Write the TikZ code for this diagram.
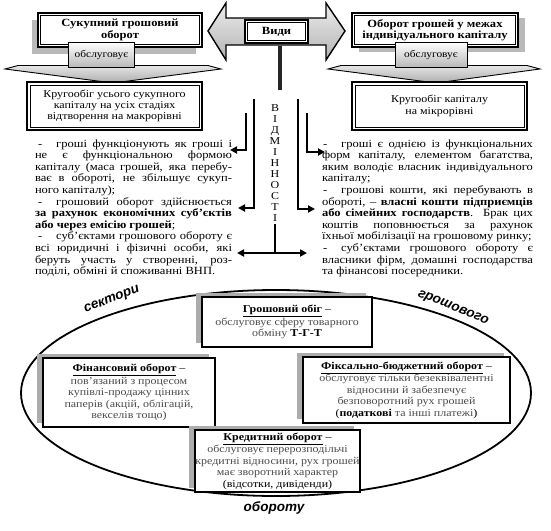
\documentclass[tikz,border=0pt]{standalone}
\usepackage{fontspec}
\setmainfont{Liberation Serif}[FakeStretch=1.14]
\newfontfamily\arialfont{Liberation Sans}
\usetikzlibrary{arrows.meta,shadows}
\begin{document}
\begin{tikzpicture}[x=1pt,y=-1pt,
  every node/.style={inner sep=0pt, outer sep=0pt},
  dblbox/.style={draw, line width=1.8pt, fill=white, align=center},
  servbox/.style={draw, line width=1pt, top color=white, bottom color=gray!55, align=center, font=\fontsize{10}{11}\selectfont},
  chev/.style={draw, line width=0.9pt, top color=gray!20, bottom color=gray!65},
  conn/.style={line width=2.4pt, -{Triangle[length=7pt,width=7pt]}},
  sector/.style={draw, line width=2pt, fill=white, align=center, font=\fontsize{10.5}{11.4}\selectfont,
     general shadow={fill=gray!65, shadow xshift=-6pt, shadow yshift=4pt}},
  body/.style={anchor=north west, align=justify, font=\fontsize{11}{11.6}\selectfont},
  ringlabel/.style={font=\arialfont\bfseries\itshape\fontsize{13.5}{14}\selectfont}
]
\useasboundingbox (0,0) rectangle (551,530);

% ---------- top double arrow with "Види"
\path[draw, line width=1.4pt, top color=gray!15, bottom color=gray!60]
  (208,31) -- (226,3) -- (226,18) -- (326,18) -- (326,3) -- (345,31)
  -- (326,60) -- (326,45) -- (226,45) -- (226,60) -- cycle;
\node[dblbox, minimum width=63pt, minimum height=23pt, font=\bfseries\fontsize{11}{12}\selectfont] (vidy) at (276.5,31.5) {Види};
\draw[line width=0.6pt] ([shift={(2.6pt,-2.6pt)}]vidy.north west) rectangle ([shift={(-2.6pt,2.6pt)}]vidy.south east);

% ---------- left column
\node[dblbox, minimum width=164pt, minimum height=34pt, font=\bfseries\fontsize{11}{11.5}\selectfont,
      general shadow={fill=gray!55, shadow xshift=-6pt, shadow yshift=-7pt}] (total) at (120,30)
      {Сукупний грошовий\\оборот};
\draw[line width=0.6pt] ([shift={(2.6pt,-2.6pt)}]total.north west) rectangle ([shift={(-2.6pt,2.6pt)}]total.south east);
\path[chev] (5,69) -- (18,65.5) -- (208,65.5) -- (221,69) -- (113,83) -- cycle;
\node[servbox, minimum width=66pt, minimum height=25pt] (servL) at (101.5,54.5) {обслуговує};
\node[dblbox, minimum width=175pt, minimum height=48pt, font=\fontsize{10.5}{10.8}\selectfont] (macro) at (114.5,106)
      {Кругообіг усього сукупного\\капіталу на усіх стадіях\\відтворення на макрорівні};
\draw[line width=0.6pt] ([shift={(3pt,-3pt)}]macro.north west) rectangle ([shift={(-3pt,3pt)}]macro.south east);

% ---------- right column
\node[dblbox, minimum width=166pt, minimum height=34pt, font=\bfseries\fontsize{11}{11.5}\selectfont,
      general shadow={fill=gray!55, shadow xshift=7pt, shadow yshift=-5pt}] (indiv) at (435,30)
      {Оборот грошей у межах\\індивідуального капіталу};
\draw[line width=0.6pt] ([shift={(2.6pt,-2.6pt)}]indiv.north west) rectangle ([shift={(-2.6pt,2.6pt)}]indiv.south east);
\path[chev] (328,69) -- (341,65.5) -- (527,65.5) -- (540,69) -- (436,83) -- cycle;
\node[servbox, minimum width=72pt, minimum height=25pt] (servR) at (431,54.5) {обслуговує};
\node[dblbox, minimum width=175pt, minimum height=48pt, font=\fontsize{10.5}{11.5}\selectfont] (micro) at (439.5,106)
      {Кругообіг капіталу\\на мікрорівні};
\draw[line width=0.6pt] ([shift={(3pt,-3pt)}]micro.north west) rectangle ([shift={(-3pt,3pt)}]micro.south east);

% ---------- "ВІДМІННОСТІ"
\coordinate (barTop) at (280,46);
\coordinate (barBot) at (280,90);
\draw[line width=4pt, black!85] (barTop) -- (barBot);
\node[align=center, font=\fontsize{10.5}{11}\selectfont] (diff) at (275,163)
  {В\\І\\Д\\М\\І\\Н\\Н\\О\\С\\Т\\І};

\coordinate (l1s) at (254,99);  \coordinate (l1e) at (238,208);
\coordinate (l2s) at (246,113); \coordinate (l2e) at (230,150);
\coordinate (r1s) at (298,99);  \coordinate (r1e) at (315,209);
\coordinate (r2s) at (307,113); \coordinate (r2e) at (325,152);
\draw[conn] (l1s) |- (l1e);
\draw[conn] (l2s) |- (l2e);
\draw[conn] (r1s) |- (r1e);
\draw[conn] (r2s) |- (r2e);
\coordinate (stemTop) at (275,224);
\coordinate (stemBot) at (275,253);
\coordinate (hL) at (237,253);
\coordinate (hR) at (307,253);
\draw[line width=2.4pt] (stemTop) -- (stemBot);
\draw[line width=2.4pt, {Triangle[length=7pt,width=7pt]}-{Triangle[length=7pt,width=7pt]}] (hL) -- (hR);

% ---------- body texts
\node[body, text width=197pt] (leftText) at (35,139.5) {%
\hspace*{3pt}-\hspace{14pt}гроші функціонують як гроші і\linebreak
не є функціональною формою\linebreak
капіталу (маса грошей, яка перебу-\linebreak
ває в обороті, не збільшує сукуп-\linebreak
ного капіталу);\newline
\hspace*{3pt}-\hspace{14pt}грошовий оборот здійснюється\linebreak
\textbf{за рахунок економічних суб’єктів}\linebreak
\textbf{або через емісію грошей};\newline
\hspace*{3pt}-\hspace{14pt}суб’єктами грошового обороту є\linebreak
всі юридичні і фізичні особи, які\linebreak
беруть участь у створенні, роз-\linebreak
поділі, обміні й споживанні ВНП.};

\node[body, text width=211pt] (rightText) at (322,139.5) {%
\hspace*{1pt}-\hspace{14pt}гроші є однією із функціональних\linebreak
форм капіталу, елементом багатства,\linebreak
яким володіє власник індивідуального\linebreak
капіталу;\newline
\hspace*{1pt}-\hspace{14pt}грошові кошти, які перебувають в\linebreak
обороті, – \textbf{власні кошти підприємців}\linebreak
\textbf{або сімейних господарств}. Брак цих\linebreak
коштів поповнюється за рахунок\linebreak
їхньої мобілізації на грошовому ринку;\newline
\hspace*{1pt}-\hspace{14pt}суб’єктами грошового обороту є\linebreak
власники фірм, домашні господарства\linebreak
та фінансові посередники.};

% ---------- ellipse of sectors
\draw[line width=1.8pt] (276,393) ellipse [x radius=255pt, y radius=103pt];
\node[ringlabel, rotate=21] (lbl1) at (112,300) {сектори};
\node[ringlabel, rotate=-22] (lbl2) at (453,308) {грошового};
\node[ringlabel] (lbl3) at (274,508) {обороту};

\node[sector, minimum width=170pt, minimum height=50pt] (s1) at (287,322)
  {\underline{\textbf{Грошовий обіг}} –\\
   {\color{black!70}обслуговує сферу товарного}\\
   {\color{black!70}обміну} \textbf{Т-Г-Т}};
\node[sector, minimum width=172pt, minimum height=69pt] (s2) at (129,392.5)
  {\underline{\textbf{Фінансовий оборот}} –\\
   {\color{black!70}пов’язаний з процесом}\\
   {\color{black!70}купівлі-продажу цінних}\\
   {\color{black!70}паперів (акцій, облігацій,}\\
   {\color{black!70}векселів тощо)}};
\node[sector, minimum width=207pt, minimum height=66pt] (s3) at (406.5,390)
  {\underline{\textbf{Фіксально-бюджетний оборот}} –\\
   {\color{black!70}обслуговує тільки безеквівалентні}\\
   {\color{black!70}відносини й забезпечує}\\
   {\color{black!70}безповоротний рух грошей}\\
   (\textbf{податкові} {\color{black!70}та інші платежі})};
\node[sector, minimum width=161pt, minimum height=62pt] (s4) at (277.5,461)
  {\underline{\textbf{Кредитний оборот}} –\\
   {\color{black!70}обслуговує перерозподільчі}\\
   {\color{black!70}кредитні відносини, рух грошей}\\
   {\color{black!70}має зворотний характер}\\
   (відсотки, дивіденди)};
\end{tikzpicture}
\end{document}
